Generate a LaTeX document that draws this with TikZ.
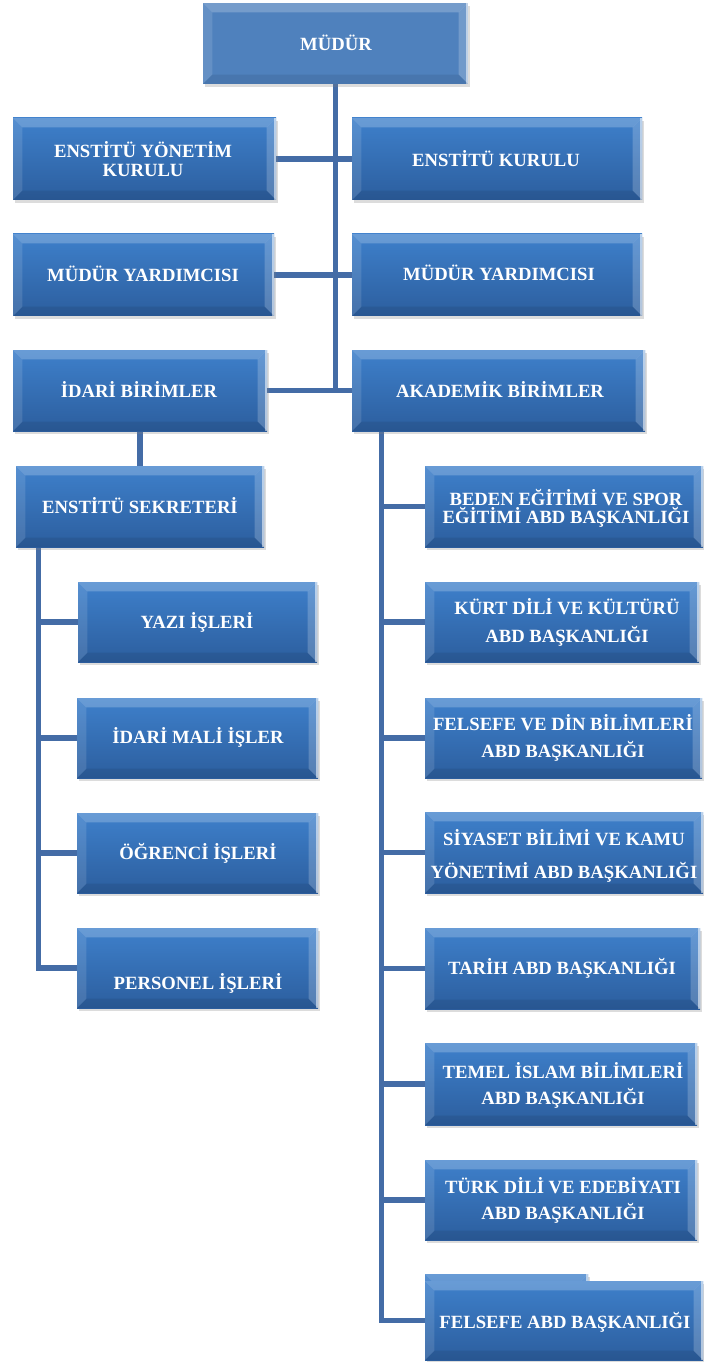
\documentclass[tikz,border=0pt]{standalone}
\usepackage{fontspec}
\setmainfont{Liberation Serif}
\usetikzlibrary{shadows,calc}
\pgfdeclarelayer{bg}
\pgfsetlayers{bg,main}
\definecolor{boxtop}{RGB}{62,128,203}
\definecolor{boxbot}{RGB}{44,94,158}
\definecolor{mudurc}{RGB}{79,129,189}
\definecolor{linec}{RGB}{68,108,166}
\tikzset{
  bevel/.style={path picture={
    \path (path picture bounding box.north west) coordinate (pnw)
          (path picture bounding box.north east) coordinate (pne)
          (path picture bounding box.south west) coordinate (psw)
          (path picture bounding box.south east) coordinate (pse);
    \fill[white,opacity=.22] (pnw) -- (pne) -- ([shift={(-7pt,-7pt)}]pne) -- ([shift={(7pt,-7pt)}]pnw) -- cycle;
    \fill[white,opacity=.12] (pnw) -- ([shift={(7pt,-7pt)}]pnw) -- ([shift={(7pt,7pt)}]psw) -- (psw) -- cycle;
    \fill[white,opacity=.20] (pne) -- (pse) -- ([shift={(-7pt,7pt)}]pse) -- ([shift={(-7pt,-7pt)}]pne) -- cycle;
    \fill[white,opacity=.55] (pne) -- (pse) -- ([shift={(-1.2pt,0pt)}]pse) -- ([shift={(-1.2pt,0pt)}]pne) -- cycle;
    \fill[black,opacity=.08] (psw) -- ([shift={(7pt,7pt)}]psw) -- ([shift={(-7pt,7pt)}]pse) -- (pse) -- cycle;
  }},
  box/.style={rectangle, inner sep=0pt, draw=none, top color=boxtop, bottom color=boxbot,
    drop shadow={opacity=0.28, shadow xshift=1.2pt, shadow yshift=-2.2pt}, bevel},
  topbox/.style={rectangle, inner sep=0pt, draw=none, fill=mudurc,
    drop shadow={opacity=0.28, shadow xshift=1.2pt, shadow yshift=-2.2pt}, bevel},
  txt/.style={text=white, font=\fontsize{14}{14.25}\selectfont\bfseries, align=center, inner sep=0pt},
  conn/.style={draw=linec, line width=3.8pt, line join=miter},
}
\newcommand\bx[6][box]{\node[#1,minimum width={(#5-#3)*0.75pt},minimum height={(#6-#4)*0.75pt}] (#2) at ({(#3+#5)/2},{(#4+#6)/2}) {};}
\begin{document}
\begin{tikzpicture}[x=0.75pt,y=-0.75pt]
\useasboundingbox (0,0) rectangle (703,1362);
% boxes
\bx[topbox]{mudur}{203}{3}{468}{84}
\bx{eyk}{13}{118}{276}{200}
\bx{ek}{352}{118}{642}{200}
\bx{myl}{13}{234}{274}{316}
\bx{myr}{352}{234}{642}{316}
\bx{idari}{13}{350}{267}{431}
\bx{akad}{352}{350}{645}{431}
\bx{sek}{16}{466}{264}{547}
\bx{yazi}{78}{582}{317}{662}
\bx{mali}{77}{698}{318}{778}
\bx{ogr}{77}{813}{318}{893}
\bx{pers}{77}{928}{318}{1008}
\bx{beden}{425}{466}{703}{547}
\bx{kurt}{425}{582}{699}{662}
\bx{fdb}{425}{698}{702}{778}
\bx{siy}{425}{812}{703}{893}
\bx{tarih}{425}{928}{700}{1009}
\bx{temel}{425}{1043}{697}{1125}
\bx{turk}{425}{1160}{697}{1240}
\bx{fabdback}{425}{1274}{588}{1340}
\bx{fabd}{425}{1281}{703}{1360}
% texts
\node[txt] (t-mudur) at (336,43) {MÜDÜR};
\node[txt] (t-eyk) at (143,159) {ENSTİTÜ YÖNETİM\\KURULU};
\node[txt] (t-ek) at (496,159) {ENSTİTÜ KURULU};
\node[txt] (t-myl) at (143,274) {MÜDÜR YARDIMCISI};
\node[txt] (t-myr) at (499,273) {MÜDÜR YARDIMCISI};
\node[txt] (t-idari) at (139,390) {İDARİ BİRİMLER};
\node[txt] (t-akad) at (500,390) {AKADEMİK BİRİMLER};
\node[txt] (t-sek) at (140,506) {ENSTİTÜ SEKRETERİ};
\node[txt] (t-yazi) at (197,622) {YAZI İŞLERİ};
\node[txt] (t-mali) at (198,737) {İDARİ MALİ İŞLER};
\node[txt] (t-ogr) at (198,853) {ÖĞRENCİ İŞLERİ};
\node[txt] (t-pers) at (198,983) {PERSONEL İŞLERİ};
\node[txt,font=\fontsize{14}{13.5}\selectfont\bfseries] (t-beden) at (566,508) {BEDEN EĞİTİMİ VE SPOR\\EĞİTİMİ ABD BAŞKANLIĞI};
\node[txt,font=\fontsize{14}{21}\selectfont\bfseries] (t-kurt) at (567,622) {KÜRT DİLİ VE KÜLTÜRÜ\\ABD BAŞKANLIĞI};
\node[txt,font=\fontsize{14}{20.25}\selectfont\bfseries] (t-fdb) at (563,738) {FELSEFE VE DİN BİLİMLERİ\\ABD BAŞKANLIĞI};
\node[txt,font=\fontsize{14}{24.75}\selectfont\bfseries] (t-siy) at (564,856) {SİYASET BİLİMİ VE KAMU\\YÖNETİMİ ABD BAŞKANLIĞI};
\node[txt] (t-tarih) at (562,968) {TARİH ABD BAŞKANLIĞI};
\node[txt,font=\fontsize{14}{19.5}\selectfont\bfseries] (t-temel) at (563,1085) {TEMEL İSLAM BİLİMLERİ\\ABD BAŞKANLIĞI};
\node[txt,font=\fontsize{14}{19.5}\selectfont\bfseries] (t-turk) at (563,1200) {TÜRK DİLİ VE EDEBİYATI\\ABD BAŞKANLIĞI};
\node[txt] (t-fabd) at (565,1322) {FELSEFE ABD BAŞKANLIĞI};
% connectors
\begin{pgfonlayer}{bg}
\coordinate (lx) at ($(sek.south west)+(23,0)$);
\coordinate (rx) at ($(akad.south west)+(30,0)$);
\draw[conn] (mudur.south) -- (mudur.south |- akad.west);
\draw[conn] (eyk.east) -- (ek.west);
\draw[conn] (myl.east) -- (myr.west);
\draw[conn] (idari.east) -- (akad.west);
\draw[conn] (idari.south) -- (sek.north);
\draw[conn] (lx) |- (pers.west);
\draw[conn] (yazi.west) -- (yazi.west -| lx);
\draw[conn] (mali.west) -- (mali.west -| lx);
\draw[conn] (ogr.west) -- (ogr.west -| lx);
\draw[conn] (rx) |- (fabd.west);
\draw[conn] (beden.west) -- (beden.west -| rx);
\draw[conn] (kurt.west) -- (kurt.west -| rx);
\draw[conn] (fdb.west) -- (fdb.west -| rx);
\draw[conn] (siy.west) -- (siy.west -| rx);
\draw[conn] (tarih.west) -- (tarih.west -| rx);
\draw[conn] (temel.west) -- (temel.west -| rx);
\draw[conn] (turk.west) -- (turk.west -| rx);
\end{pgfonlayer}
\end{tikzpicture}
\end{document}
